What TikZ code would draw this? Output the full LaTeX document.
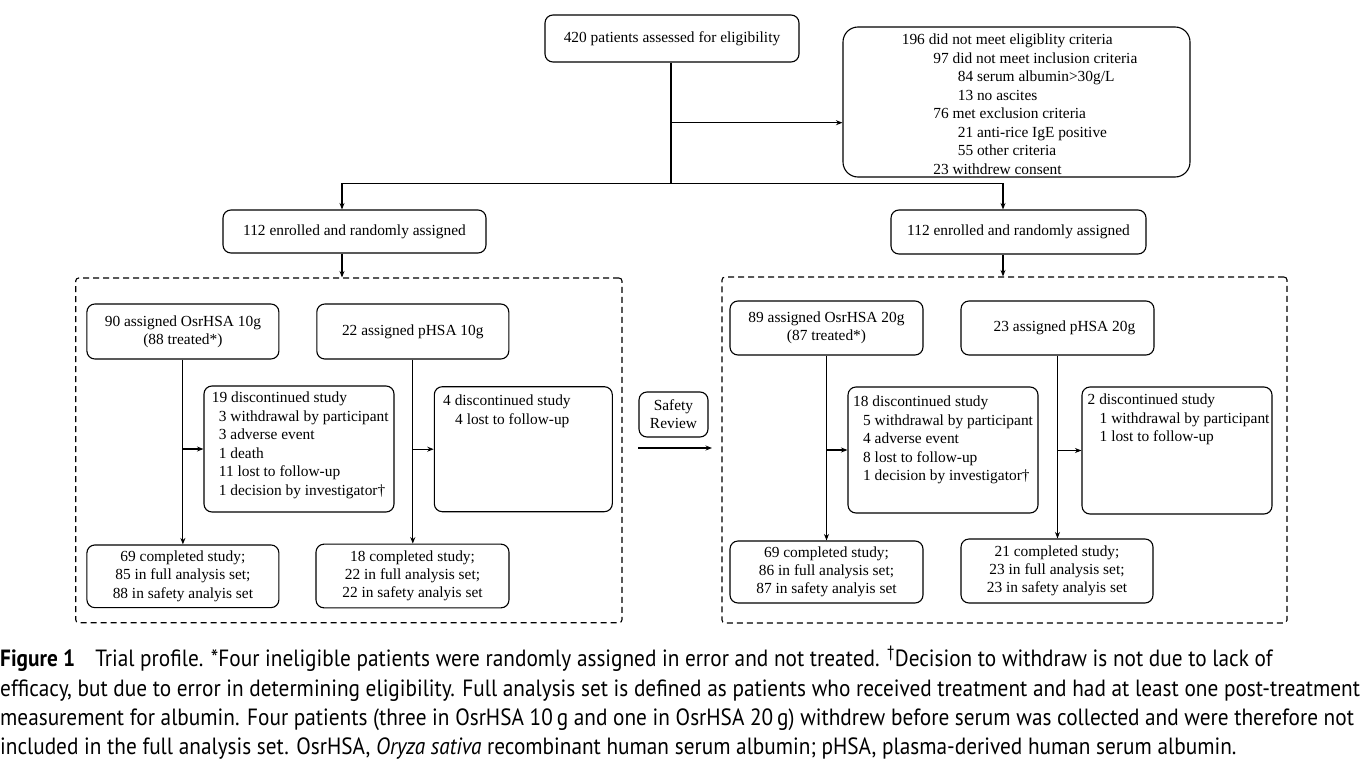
\documentclass[tikz,border=0pt]{standalone}
\usepackage{fontspec}
\setmainfont{Liberation Serif}
\newfontfamily\capfont[FakeStretch=0.905]{PT Sans}
\usetikzlibrary{arrows.meta,calc}
\begin{document}
\begin{tikzpicture}[x=1pt,y=-1pt,
  box/.style={draw, line width=1.1pt, rounded corners=8pt, inner sep=0pt, align=center,
    font=\fontsize{15.4}{18.2}\selectfont},
  txt/.style={inner sep=0pt, align=left, anchor=north west, font=\fontsize{15.4}{18.5}\selectfont},
  arr/.style={line width=1.1pt, -{Stealth[length=6.5pt,width=5pt]}},
  ln/.style={line width=1.1pt},
  dbox/.style={draw, line width=1.1pt, dash pattern=on 6pt off 4pt, rounded corners=3pt, inner sep=0pt}]
\useasboundingbox (0,0) rectangle (1360,771);

% top
\node[box, minimum width=254pt, minimum height=47pt] (top) at (672,38.5) {420 patients assessed for eligibility};
\node[box, rounded corners=15pt, minimum width=347pt, minimum height=150pt] (rb) at (1016.5,102) {};
\node[txt] (rbt) at (901.6,34) {196 did not meet eligiblity criteria\\
\hspace*{31.5pt}97 did not meet inclusion criteria\\
\hspace*{56pt}84 serum albumin>30g/L\\
\hspace*{56pt}13 no ascites\\
\hspace*{31.5pt}76 met exclusion criteria\\
\hspace*{56pt}21 anti-rice IgE positive\\
\hspace*{56pt}55 other criteria\\
\hspace*{31.5pt}23 withdrew consent};

\node[box, minimum width=263pt, minimum height=43pt] (enL) at (354.5,231.5) {112 enrolled and randomly assigned};
\node[box, minimum width=255pt, minimum height=44pt] (enR) at (1018.5,232) {112 enrolled and randomly assigned};

% dashed groups
\node[dbox, minimum width=546.3pt, minimum height=344.7pt] (dL) at (348.85,450.35) {};
\node[dbox, minimum width=565pt, minimum height=346pt] (dR) at (1004.5,450) {};

% left group
\node[box, minimum width=192pt, minimum height=55pt] (a1) at (182.9,331.5) {90 assigned OsrHSA 10g\\(88 treated*)};
\node[box, minimum width=192pt, minimum height=55pt] (a2) at (412.8,331.5) {22 assigned pHSA 10g};
\node[box, minimum width=190pt, minimum height=126pt] (d1) at (299,449) {};
\node[txt] (d1t) at (211.7,392) {19 discontinued study\\
\hspace*{7pt}3 withdrawal by participant\\
\hspace*{7pt}3 adverse event\\
\hspace*{7pt}1 death\\
\hspace*{7pt}11 lost to follow-up\\
\hspace*{7pt}1 decision by investigator†};
\node[box, minimum width=178pt, minimum height=125pt] (d2) at (523.3,449.2) {};
\node[txt] (d2t) at (443,394.7) {4 discontinued study\\
\hspace*{12pt}4 lost to follow-up};
\node[box, minimum width=192pt, minimum height=62.7pt] (c1) at (182.9,576.3) {69 completed study;\\85 in full analysis set;\\88 in safety analyis set};
\node[box, minimum width=193pt, minimum height=63.7pt] (c2) at (412.5,576) {18 completed study;\\22 in full analysis set;\\22 in safety analyis set};

% safety review
\node[box, minimum width=69pt, minimum height=45pt] (sr) at (673.5,414.5) {Safety\\Review};
\coordinate (s1) at (638,448);
\coordinate (s2) at (712,448);

% right group
\node[box, minimum width=193pt, minimum height=54pt] (b1) at (826.5,328) {89 assigned OsrHSA 20g\\(87 treated*)};
\node[box, minimum width=193pt, minimum height=54pt] (b2) at (1057.5,328) {\hspace*{14pt}23 assigned pHSA 20g};
\node[box, minimum width=190pt, minimum height=126pt] (e1) at (943,450) {};
\node[txt] (e1t) at (853,396) {18 discontinued study\\
\hspace*{10pt}5 withdrawal by participant\\
\hspace*{10pt}4 adverse event\\
\hspace*{10pt}8 lost to follow-up\\
\hspace*{10pt}1 decision by investigator†};
\node[box, minimum width=190pt, minimum height=127pt] (e2) at (1177,450.5) {};
\node[txt] (e2t) at (1087.5,394) {2 discontinued study\\
\hspace*{12pt}1 withdrawal by participant\\
\hspace*{12pt}1 lost to follow-up};
\node[box, minimum width=193pt, minimum height=62pt] (f1) at (826.5,572) {69 completed study;\\86 in full analysis set;\\87 in safety analyis set};
\node[box, minimum width=192pt, minimum height=64pt] (f2) at (1057,571) {21 completed study;\\23 in full analysis set;\\23 in safety analyis set};

% connectors
\coordinate (jT) at (671,122.7);
\coordinate (jB) at (671,183.3);
\coordinate (jL) at (342,183.3);
\coordinate (jR) at (1003,183.3);
\draw[ln] (top.south -| jB) -- (jB);
\draw[arr] (jT) -- (jT -| rb.west);
\draw[ln] (jL) -- (jR);
\draw[arr] (jL) -- (jL |- enL.north);
\draw[arr] (jR) -- (jR |- enR.north);
\draw[arr] (jL |- enL.south) -- (jL |- dL.north);
\draw[arr] (jR |- enR.south) -- (jR |- dR.north);

\draw[arr] (a1) -- (c1);
\draw[arr] (a2.south) -- (a2.south |- c2.north);
\draw[arr] (a1.south |- d1.west) -- (d1.west);
\draw[arr] (a2.south |- d2.west) -- (d2.west);

\draw[arr] (b1) -- (f1);
\draw[arr] (b2.south) -- (b2.south |- f2.north);
\draw[arr] (b1.south |- e1.west) -- (e1.west);
\draw[arr] (b2.south |- e2.west) -- (e2.west);

\draw[arr] (s1) -- (s2);

% caption
\node[anchor=north west, inner sep=0pt, align=left, font=\capfont\fontsize{23.5}{29.3}\selectfont] (cap) at (0,646)
{\textbf{Figure 1}\hspace{20pt}Trial profile. *Four ineligible patients were randomly assigned in error and not treated. \textsuperscript{†}Decision to withdraw is not due to lack of\\
efficacy, but due to error in determining eligibility. Full analysis set is defined as patients who received treatment and had at least one post-treatment\\
measurement for albumin. Four patients (three in OsrHSA 10\,g and one in OsrHSA 20\,g) withdrew before serum was collected and were therefore not\\
included in the full analysis set. OsrHSA, \textit{Oryza sativa} recombinant human serum albumin; pHSA, plasma-derived human serum albumin.};
\end{tikzpicture}
\end{document}
